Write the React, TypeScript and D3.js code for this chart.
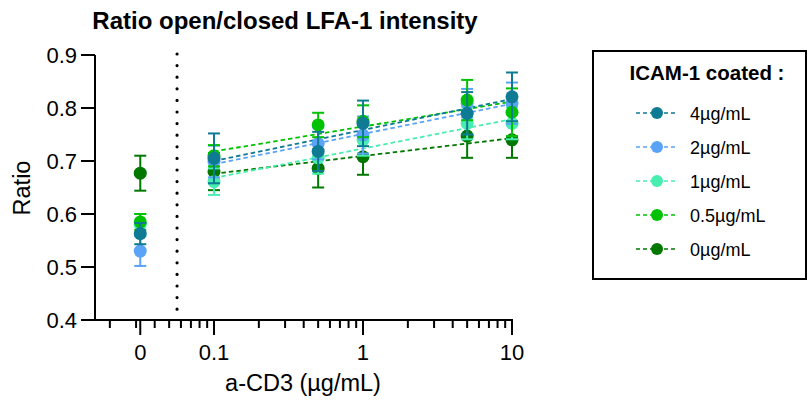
import React from "react";
import * as d3 from "d3";

const xValues = [0, 0.1, 0.5, 1, 5, 10];
const zeroPlotAt = 0.032;
const breakAt = 0.0565;
const seriesNames = ["4µg/mL", "2µg/mL", "1µg/mL", "0.5µg/mL", "0µg/mL"];
const seriesColors = ["#0e7a94", "#5aa3f7", "#47eeb0", "#00c200", "#007800"];
const means4 = [0.563, 0.705, 0.718, 0.771, 0.79, 0.821];
const err4 = [0.02, 0.047, 0.037, 0.043, 0.04, 0.046];
const means2 = [0.53, 0.699, 0.733, 0.749, 0.809, 0.809];
const err2 = [0.028, 0.03, 0.03, 0.035, 0.027, 0.039];
const means1 = [0.58, 0.661, 0.706, 0.74, 0.771, 0.771];
const err1 = [0.02, 0.025, 0.03, 0.03, 0.03, 0.03];
const means05 = [0.585, 0.71, 0.768, 0.775, 0.815, 0.792];
const err05 = [0.015, 0.02, 0.023, 0.03, 0.038, 0.045];
const means0 = [0.677, 0.68, 0.686, 0.708, 0.747, 0.74];
const err0 = [0.033, 0.035, 0.036, 0.034, 0.041, 0.034];
const fitX = [0.1, 10];
const fit4 = [0.7, 0.817];
const fit2 = [0.694, 0.808];
const fit1 = [0.668, 0.779];
const fit05 = [0.718, 0.812];
const fit0 = [0.676, 0.743];
const yTicks = [0.4, 0.5, 0.6, 0.7, 0.8, 0.9];
const xMajor = [0.1, 1, 10];
const xMajorLabels = ["0.1", "1", "10"];
const xMinor = [0.02, 0.03, 0.04, 0.05, 0.06, 0.07, 0.08, 0.09, 0.2, 0.3, 0.4, 0.5, 0.6, 0.7, 0.8, 0.9, 2, 3, 4, 5, 6, 7, 8, 9];

const allMeans = [means4, means2, means1, means05, means0];
const allErr = [err4, err2, err1, err05, err0];
const allFits = [fit4, fit2, fit1, fit05, fit0];

const font = "'Liberation Sans', Arial, sans-serif";

export default function App() {
  const x = d3.scaleLog().domain([0.0159, 10]).range([95, 512]);
  const y = d3.scaleLinear().domain([0.4, 0.9]).range([320, 55]);
  const px = (v: number) => (v === 0 ? x(zeroPlotAt) : x(v));
  const line = d3
    .line<[number, number]>()
    .x((d) => x(d[0]))
    .y((d) => y(d[1]));
  const drawOrder = [4, 2, 1, 3, 0];
  const legendY = d3.scaleLinear().domain([0, 4]).range([113, 249]);

  return (
    <svg width={810} height={401} style={{ position: "absolute", left: 0, top: 0, background: "#fff" }} fontFamily={font}>
      <text x={285} y={28.5} textAnchor="middle" fontSize={24} fontWeight="bold">
        Ratio open/closed LFA-1 intensity
      </text>
      {/* dotted break line */}
      <line x1={x(breakAt)} x2={x(breakAt)} y1={y(0.9) - 1} y2={y(0.4) - 4} stroke="#000" strokeWidth={3.2} strokeLinecap="round" strokeDasharray="0 11.6" />
      {/* fits */}
      {drawOrder.map((s) => (
        <path key={"f" + s} d={line(fitX.map((v, i) => [v, allFits[s][i]]) as [number, number][]) || ""} fill="none" stroke={seriesColors[s]} strokeWidth={1.8} strokeDasharray="4.5 3" />
      ))}
      {/* error bars and points */}
      {drawOrder.map((s) => (
        <g key={"p" + s}>
          {xValues.map((xv, i) => {
            const cx = px(xv);
            const m = allMeans[s][i];
            const e = allErr[s][i];
            return (
              <g key={i} stroke={seriesColors[s]} strokeWidth={2}>
                <line x1={cx} x2={cx} y1={y(m + e)} y2={y(m - e)} />
                <line x1={cx - 6} x2={cx + 6} y1={y(m + e)} y2={y(m + e)} />
                <line x1={cx - 6} x2={cx + 6} y1={y(m - e)} y2={y(m - e)} />
                <circle cx={cx} cy={y(m)} r={6.5} fill={seriesColors[s]} stroke="none" />
              </g>
            );
          })}
        </g>
      ))}
      {/* axes */}
      <g stroke="#000" strokeWidth={2}>
        <line x1={95} x2={95} y1={y(0.9)} y2={y(0.4) + 1} />
        <line x1={94} x2={x(10) + 1} y1={y(0.4)} y2={y(0.4)} />
        {yTicks.map((t) => (
          <line key={t} x1={81} x2={95} y1={y(t)} y2={y(t)} />
        ))}
        {[zeroPlotAt, ...xMajor].map((t) => (
          <line key={t} x1={x(t)} x2={x(t)} y1={y(0.4)} y2={y(0.4) + 15} />
        ))}
        {xMinor.map((t) => (
          <line key={t} x1={x(t)} x2={x(t)} y1={y(0.4)} y2={y(0.4) + 8} />
        ))}
      </g>
      {yTicks.map((t) => (
        <text key={t} x={77} y={y(t) + 8} textAnchor="end" fontSize={22}>
          {t.toFixed(1)}
        </text>
      ))}
      <text x={x(zeroPlotAt)} y={360} textAnchor="middle" fontSize={22}>
        0
      </text>
      {xMajor.map((t, i) => (
        <text key={t} x={x(t)} y={360} textAnchor="middle" fontSize={22}>
          {xMajorLabels[i]}
        </text>
      ))}
      <text x={303} y={391} textAnchor="middle" fontSize={23.5}>
        a-CD3 (µg/mL)
      </text>
      <text transform="translate(30,188) rotate(-90)" textAnchor="middle" fontSize={23.5}>
        Ratio
      </text>
      {/* legend */}
      <rect x={593} y={51} width={213} height={228} fill="none" stroke="#000" strokeWidth={2} />
      <text x={707} y={80} textAnchor="middle" fontSize={20.5} fontWeight="bold">
        ICAM-1 coated :
      </text>
      {seriesNames.map((n, i) => (
        <g key={n}>
          <line x1={636} x2={678} y1={legendY(i)} y2={legendY(i)} stroke={seriesColors[i]} strokeWidth={1.6} strokeDasharray="4 3" />
          <circle cx={657} cy={legendY(i)} r={6} fill={seriesColors[i]} />
          <text x={690} y={legendY(i) + 6.5} fontSize={18}>
            {n}
          </text>
        </g>
      ))}
    </svg>
  );
}
